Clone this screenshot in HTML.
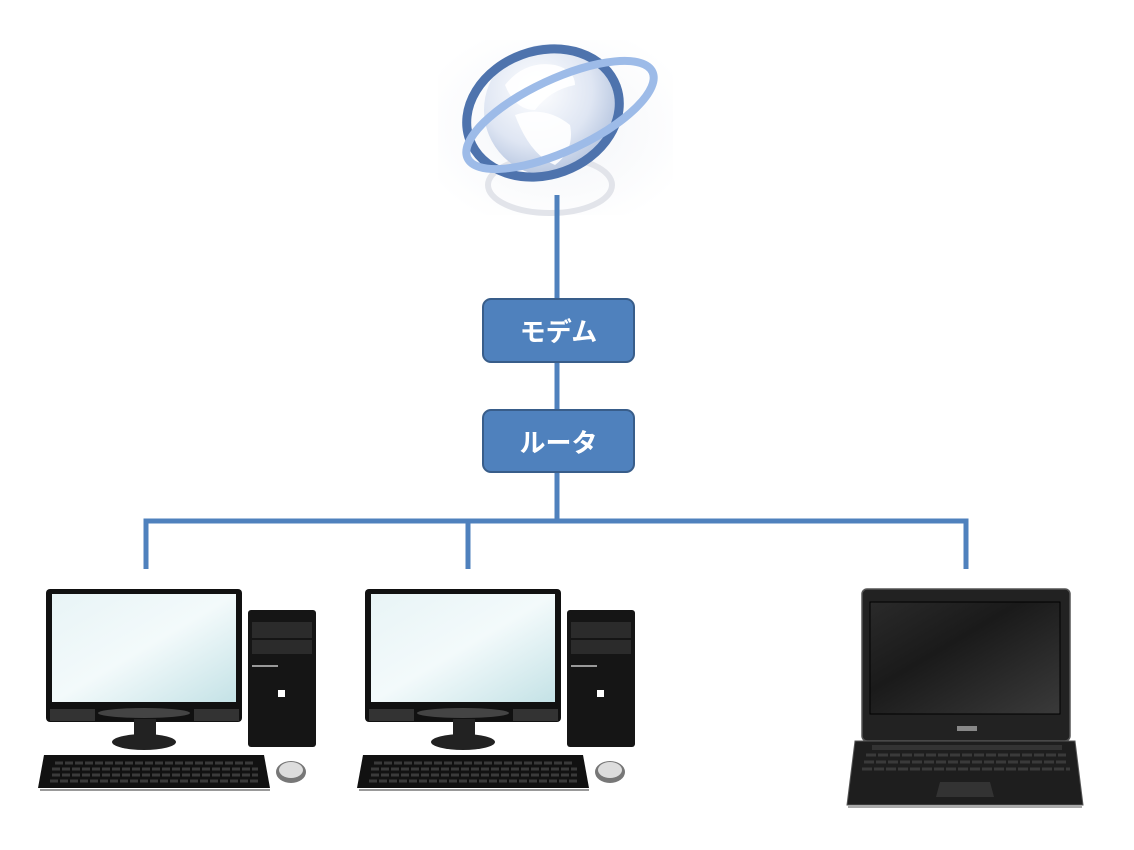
<!DOCTYPE html>
<html><head><meta charset="utf-8"><style>
body{margin:0;background:#fff;width:1134px;height:850px;overflow:hidden;font-family:"Liberation Sans","Noto Sans CJK JP",sans-serif}
.box{position:absolute;left:482px;width:149px;background:#4f81bd;border:2px solid #385d8a;border-radius:9px;color:#fff;font-size:26px;font-weight:bold;display:flex;align-items:center;justify-content:center}
</style></head><body>
<svg width="1134" height="850" style="position:absolute;left:0;top:0">
<defs>
<radialGradient id="bg" cx="0.5" cy="0.5" r="0.6"><stop offset="0" stop-color="#f2f4f8"/><stop offset="1" stop-color="#fff"/></radialGradient>
<radialGradient id="gl" cx="0.4" cy="0.35" r="0.7"><stop offset="0" stop-color="#ffffff"/><stop offset="0.6" stop-color="#dfe6f3"/><stop offset="1" stop-color="#aebfdc"/></radialGradient>
<linearGradient id="scr" x1="0" y1="0" x2="1" y2="1"><stop offset="0" stop-color="#e8f4f6"/><stop offset="0.5" stop-color="#f3fafb"/><stop offset="1" stop-color="#c4e2e6"/></linearGradient>
<linearGradient id="lap" x1="0" y1="0" x2="1" y2="1"><stop offset="0" stop-color="#2a2a2a"/><stop offset="0.4" stop-color="#1a1a1a"/><stop offset="1" stop-color="#3a3a3a"/></linearGradient>
</defs>
<rect x="438" y="40" width="235" height="175" fill="url(#bg)"/>
<ellipse cx="550" cy="185" rx="62" ry="28" fill="none" stroke="#e2e4ea" stroke-width="6"/>
<circle cx="550" cy="110" r="66" fill="url(#gl)"/>
<path d="M505 85 q20-25 50-20 q20 5 20 20 q-25 5 -40 25 q-20 0 -30 -25z" fill="#fff" opacity="0.9"/>
<path d="M515 115 q30-10 55 10 q5 25 -15 40 q-25-10 -40-50z" fill="#fff" opacity="0.9"/>
<ellipse cx="543" cy="113" rx="78" ry="62" fill="none" stroke="#4e73ad" stroke-width="9" transform="rotate(-20 543 113)"/>
<ellipse cx="560" cy="115" rx="102" ry="36" fill="none" stroke="#9dbbe8" stroke-width="8" transform="rotate(-25 560 115)"/>
<g stroke="#4f81bd" stroke-width="5" fill="none">
<line x1="557" y1="195" x2="557" y2="300"/>
<line x1="557" y1="363" x2="557" y2="410"/>
<line x1="557" y1="473" x2="557" y2="521"/>
<polyline points="146,569 146,521 966,521 966,569"/>
<line x1="468" y1="521" x2="468" y2="569"/>
</g>
<g id="pc">
<rect x="46" y="589" width="196" height="133" rx="4" fill="#111"/>
<rect x="52" y="594" width="184" height="108" fill="url(#scr)"/>
<rect x="50" y="709" width="45" height="12" fill="#333"/>
<rect x="194" y="709" width="45" height="12" fill="#333"/>
<ellipse cx="144" cy="713" rx="46" ry="5" fill="#444"/>
<rect x="134" y="719" width="22" height="18" fill="#222"/>
<ellipse cx="144" cy="742" rx="32" ry="8" fill="#222"/>
<rect x="248" y="610" width="68" height="137" rx="3" fill="#151515"/>
<rect x="252" y="622" width="60" height="16" fill="#2b2b2b"/>
<rect x="252" y="640" width="60" height="14" fill="#2b2b2b"/>
<rect x="252" y="665" width="26" height="2" fill="#999"/>
<rect x="278" y="690" width="7" height="7" fill="#fff"/>
<path d="M44 755 h220 l6 33 h-232z" fill="#111"/>
<g stroke="#3a3a3a" stroke-width="3" stroke-dasharray="8 2">
<line x1="55" y1="763" x2="255" y2="763"/>
<line x1="52" y1="769" x2="258" y2="769"/>
<line x1="52" y1="775" x2="258" y2="775"/>
<line x1="50" y1="781" x2="260" y2="781"/>
</g>
<line x1="40" y1="790" x2="270" y2="790" stroke="#999" stroke-width="2"/>
<ellipse cx="291" cy="772" rx="15" ry="11" fill="#777"/>
<ellipse cx="291" cy="770" rx="12" ry="8" fill="#ddd"/>
</g>
<use href="#pc" x="319"/>
<rect x="862" y="589" width="208" height="152" rx="5" fill="#222" stroke="#555" stroke-width="1.5"/>
<rect x="870" y="602" width="190" height="112" fill="url(#lap)" stroke="#000"/>
<rect x="957" y="726" width="20" height="5" fill="#888"/>
<path d="M855 741 h220 l8 64 h-236z" fill="#1e1e1e" stroke="#555"/>
<rect x="872" y="745" width="190" height="5" fill="#333"/>
<g stroke="#3a3a3a" stroke-width="3" stroke-dasharray="10 2">
<line x1="866" y1="755" x2="1066" y2="755"/>
<line x1="864" y1="762" x2="1068" y2="762"/>
<line x1="862" y1="769" x2="1070" y2="769"/>
</g>
<path d="M940 782 h50 l4 15 h-58z" fill="#333"/>
<line x1="848" y1="807" x2="1082" y2="807" stroke="#aaa" stroke-width="2"/>
</svg>
<div class="box" style="top:298px;height:61px">モデム</div>
<div class="box" style="top:409px;height:60px">ルータ</div>
</body></html>
